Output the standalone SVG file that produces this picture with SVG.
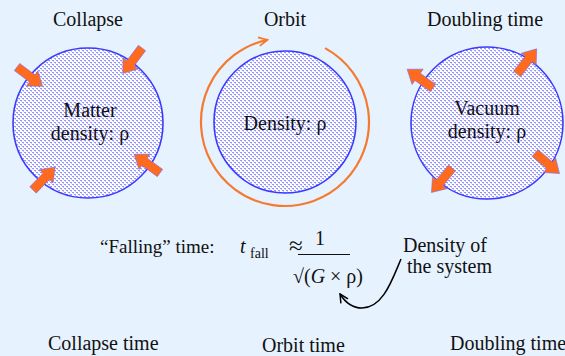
<svg xmlns="http://www.w3.org/2000/svg" width="565" height="356" viewBox="0 0 565 356">
<defs>
<pattern id="dots" patternUnits="userSpaceOnUse" width="4" height="4">
<rect width="4" height="4" fill="#ffffff"/>
<rect x="0" y="0" width="2" height="1" fill="#9494ff"/>
<rect x="2" y="2" width="2" height="1" fill="#9494ff"/>
<rect x="1" y="1" width="1" height="1" fill="#c8c8ff"/>
<rect x="3" y="3" width="1" height="1" fill="#c8c8ff"/>
</pattern>
<polygon id="barrow" points="0,-4.5 19,-4.5 19,-9.5 32,0 19,9.5 19,4.5 0,4.5"/>
<marker id="openhead" viewBox="0 0 10 10" refX="9" refY="5" markerWidth="5" markerHeight="5" orient="auto" markerUnits="strokeWidth">
<path d="M1,1 L9,5 L1,9" fill="none" stroke="#f47a30" stroke-width="1.6"/>
</marker>
<marker id="blackhead" viewBox="0 0 10 10" refX="9" refY="5" markerWidth="7" markerHeight="7" orient="auto" markerUnits="strokeWidth">
<path d="M1,1 L9,5 L1,9" fill="none" stroke="#000" stroke-width="1.4"/>
</marker>
</defs>
<style>
text{font-family:"Liberation Serif","DejaVu Serif",serif;font-size:20px;fill:#111;}
.ball{fill:url(#dots);stroke:#3a3aff;stroke-width:1.6;}
.ar{fill:#ff6a1f;stroke:#6a6aff;stroke-width:0.5;}
.mid{text-anchor:middle;}
</style>
<rect width="565" height="356" fill="#e6f2fe"/>

<g id="collapse">
<text class="mid" x="88" y="26">Collapse</text>
<circle class="ball" cx="88" cy="123" r="75"/>
<text class="mid" x="90" y="117">Matter</text>
<text class="mid" x="90" y="140">density: ρ</text>
<use href="#barrow" class="ar" transform="translate(17,67) rotate(37)"/>
<use href="#barrow" class="ar" transform="translate(142,48) rotate(127)"/>
<use href="#barrow" class="ar" transform="translate(33,190) rotate(-46)"/>
<use href="#barrow" class="ar" transform="translate(160,173) rotate(216)"/>
</g>

<g id="orbit">
<text class="mid" x="285" y="26">Orbit</text>
<circle class="ball" cx="285" cy="122" r="71"/>
<text class="mid" x="285" y="130">Density: ρ</text>
</g>

<g id="doubling">
<text class="mid" x="485" y="26">Doubling time</text>
<circle class="ball" cx="487" cy="123" r="76"/>
<text class="mid" x="487" y="115">Vacuum</text>
<text class="mid" x="487" y="138">density: ρ</text>
<use href="#barrow" class="ar" transform="translate(517,74) rotate(-52)"/>
<use href="#barrow" class="ar" transform="translate(433,88) rotate(216)"/>
<use href="#barrow" class="ar" transform="translate(452,168) rotate(130)"/>
<use href="#barrow" class="ar" transform="translate(535,153) rotate(40)"/>
</g>

<g id="formula">
<text x="100" y="253" style="font-size:19px">“Falling” time:</text>
<text x="240" y="253" font-style="italic">t</text>
<text x="250" y="258" style="font-size:14px">fall</text>
<text x="289" y="254" style="font-size:25px">≈</text>
<text class="mid" x="320" y="245">1</text>
<line x1="298" y1="254.5" x2="350" y2="254.5" stroke="#111" stroke-width="1.2"/>
<text x="293" y="283">√(<tspan font-style="italic">G</tspan> × ρ)</text>
</g>

<g id="density-label">
<text x="403" y="252">Density of</text>
<text x="407" y="273">the system</text>
</g>

<g id="bottom-labels">
<text x="48" y="350">Collapse time</text>
<text x="262" y="352">Orbit time</text>
<text x="450" y="350">Doubling time</text>
</g>

<g id="connectors">
<path d="M325,48.1 A84,84 0 1 1 267.5,39.8" fill="none" stroke="#f47a30" stroke-width="2.2" marker-end="url(#openhead)"/>
<path d="M401,259 C392,280 383,308 362,308 C352,308 345,302 340,294" fill="none" stroke="#000" stroke-width="1.5" marker-end="url(#blackhead)"/>
</g>
</svg>
